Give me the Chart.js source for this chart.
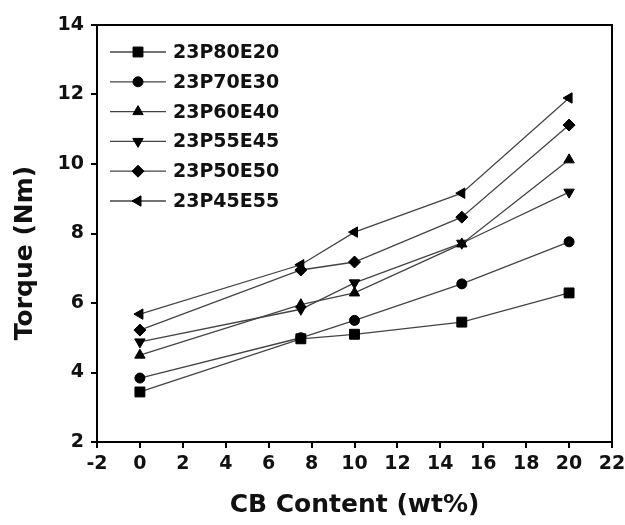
<!DOCTYPE html>
<html>
<head>
<meta charset="utf-8">
<script src="https://cdn.jsdelivr.net/npm/chart.js@4.4.1/dist/chart.umd.min.js"></script>
<style>
    html, body { margin: 0; padding: 0; background: #fff; }
    #wrap { width: 625px; height: 525px; }
</style>
</head>
<body>
<div id="wrap"><canvas id="torqueChart" width="625" height="525"></canvas></div>
<script>
// --- Data ---
const cbContent = [0, 7.5, 10, 15, 20];
const seriesNames = ['23P80E20', '23P70E30', '23P60E40', '23P55E45', '23P50E50', '23P45E55'];
const s23P80E20 = [3.44, 4.97, 5.10, 5.45, 6.29];
const s23P70E30 = [3.84, 5.00, 5.50, 6.55, 7.76];
const s23P60E40 = [4.50, 5.95, 6.29, 7.70, 10.12];
const s23P55E45 = [4.88, 5.82, 6.58, 7.72, 9.19];
const s23P50E50 = [5.22, 6.95, 7.18, 8.47, 11.12];
const s23P45E55 = [5.68, 7.10, 8.04, 9.16, 11.90];
const xTicks = [-2, 0, 2, 4, 6, 8, 10, 12, 14, 16, 18, 20, 22];
const yTicks = [2, 4, 6, 8, 10, 12, 14];

const seriesValues = [s23P80E20, s23P70E30, s23P60E40, s23P55E45, s23P50E50, s23P45E55];
const markers = [
    { style: 'rect', radius: 7, rotation: 0 },
    { style: 'circle', radius: 5, rotation: 0 },
    { style: 'triangle', radius: 6, rotation: 0 },
    { style: 'triangle', radius: 6, rotation: 180 },
    { style: 'rectRot', radius: 6, rotation: 0 },
    { style: 'triangle', radius: 6, rotation: 270 }
];

const FONT = '"DejaVu Sans", "Liberation Sans", Arial, sans-serif';
const LINE_COLOR = '#444';

const datasets = seriesNames.map((name, i) => ({
    label: name,
    data: cbContent.map((x, j) => ({ x: x, y: seriesValues[i][j] })),
    borderColor: LINE_COLOR,
    borderWidth: 1.3,
    backgroundColor: '#000',
    pointStyle: markers[i].style,
    pointRadius: markers[i].radius,
    pointRotation: markers[i].rotation,
    pointBackgroundColor: '#000',
    pointBorderColor: '#000',
    pointBorderWidth: 1,
    tension: 0,
    fill: false
}));

// frame around the plot, y title, and legend with line through marker
const framePlugin = {
    id: 'framePlugin',
    afterDraw(chart) {
        const { ctx, chartArea } = chart;
        ctx.save();
        ctx.strokeStyle = '#000';
        ctx.lineWidth = 2;
        ctx.strokeRect(chartArea.left, chartArea.top, chartArea.right - chartArea.left, chartArea.bottom - chartArea.top);

        // y axis title (sits a bit below the plot middle in the original)
        ctx.save();
        ctx.translate(25, 253);
        ctx.rotate(-Math.PI / 2);
        ctx.fillStyle = '#111';
        ctx.font = 'bold 25px ' + FONT;
        ctx.textAlign = 'center';
        ctx.textBaseline = 'middle';
        ctx.fillText('Torque (Nm)', 0, 0);
        ctx.restore();

        const rowTop = 52, rowGap = 29.8;
        chart.data.datasets.forEach((ds, i) => {
            const y = rowTop + i * rowGap;
            ctx.strokeStyle = LINE_COLOR;
            ctx.lineWidth = 1.3;
            ctx.beginPath();
            ctx.moveTo(110, y);
            ctx.lineTo(166, y);
            ctx.stroke();
            ctx.fillStyle = '#000';
            ctx.strokeStyle = '#000';
            ctx.lineWidth = 1;
            Chart.helpers.drawPoint(ctx, {
                pointStyle: ds.pointStyle,
                radius: ds.pointRadius,
                rotation: ds.pointRotation,
                borderWidth: 1
            }, 138, y);
            ctx.fillStyle = '#111';
            ctx.font = 'bold 19px ' + FONT;
            ctx.textBaseline = 'middle';
            ctx.textAlign = 'left';
            ctx.fillText(ds.label, 173, y + 1);
        });
        ctx.restore();
    }
};

const ctx = document.getElementById('torqueChart').getContext('2d');
new Chart(ctx, {
    type: 'line',
    data: { datasets: datasets },
    options: {
        responsive: false,
        animation: false,
        layout: { padding: { top: 25, right: 13, left: 0, bottom: 0 } },
        plugins: {
            legend: { display: false },
            tooltip: { enabled: false }
        },
        scales: {
            x: {
                type: 'linear',
                min: -2,
                max: 22,
                afterBuildTicks: (scale) => { scale.ticks = xTicks.map(v => ({ value: v })); },
                afterFit: (scale) => { scale.height = 83; scale.paddingLeft = 0; scale.paddingRight = 0; },
                grid: { drawOnChartArea: false, drawTicks: true, tickLength: 6, color: '#000', lineWidth: 2 },
                border: { display: true, color: '#000', width: 2 },
                ticks: {
                    color: '#111',
                    padding: 5,
                    maxRotation: 0,
                    autoSkip: false,
                    font: { family: FONT, size: 19, weight: 'bold' }
                },
                title: {
                    display: true,
                    text: 'CB Content (wt%)',
                    color: '#111',
                    padding: { top: 0, bottom: 5 },
                    font: { family: FONT, size: 25, weight: 'bold' }
                }
            },
            y: {
                min: 2,
                max: 14,
                afterBuildTicks: (scale) => { scale.ticks = yTicks.map(v => ({ value: v })); },
                afterFit: (scale) => { scale.width = 97; scale.paddingTop = 0; scale.paddingBottom = 0; },
                grid: { drawOnChartArea: false, drawTicks: true, tickLength: 6, color: '#000', lineWidth: 2 },
                border: { display: true, color: '#000', width: 2 },
                ticks: {
                    color: '#111',
                    padding: 7,
                    autoSkip: false,
                    font: { family: FONT, size: 19, weight: 'bold' }
                },
                title: { display: false }
            }
        }
    },
    plugins: [framePlugin]
});
</script>
</body>
</html>
